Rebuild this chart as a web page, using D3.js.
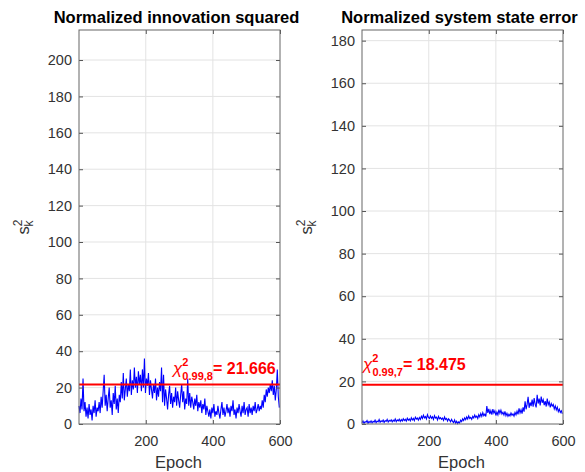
<!DOCTYPE html>
<html>
<head>
<meta charset="utf-8">
<script src="https://cdn.jsdelivr.net/npm/d3@7"></script>
<style>
    html, body { margin: 0; padding: 0; background: #fff; }
    svg { display: block; font-family: "Liberation Sans", Arial, Helvetica, sans-serif; }
</style>
</head>
<body>
<div id="chart"></div>
<script>
// epoch of the first sample and spacing between samples
const epochStart = 1;
const epochStep = 3;

// normalized innovation squared
const nisValues = [
    10, 6, 14, 8, 25, 7, 12, 4, 9, 3,
    11, 5, 8, 2, 10, 6, 13, 4, 9, 7,
    12, 6, 15, 9, 18, 27, 10, 16, 7, 14,
    20, 9, 13, 5, 17, 11, 21, 8, 14, 6,
    16, 12, 23, 14, 28, 13, 19, 25, 15, 22,
    18, 30, 16, 24, 19, 31, 20, 26, 17, 29,
    22, 27, 18, 30, 20, 36, 17, 25, 21, 28,
    16, 24, 19, 14, 22, 17, 25, 13, 20, 15,
    23, 18, 31, 12, 27, 10, 19, 14, 8, 16,
    21, 11, 17, 9, 15, 12, 20, 10, 18, 13,
    9, 16, 22, 12, 18, 8, 14, 11, 25, 10,
    17, 9, 15, 12, 8, 14, 10, 16, 7, 12,
    9, 13, 6, 11, 8, 14, 5, 10, 7, 4,
    8, 3, 9, 6, 11, 4, 7, 5, 10, 6,
    3, 8, 12, 5, 9, 4, 7, 11, 6, 9,
    4, 10, 7, 13, 5, 8, 3, 9, 6, 11,
    7, 4, 10, 6, 12, 5, 8, 9, 4, 11,
    6, 9, 5, 10, 7, 12, 6, 8, 11, 7,
    10, 8, 13, 9, 16, 12, 19, 15, 20, 17,
    22, 18, 24, 16, 21, 13, 19, 30, 15, 9
];

// normalized system state error
const neesValues = [
    0.6, 1.4, 0.3, 1.1, 0.8, 1.6, 0.4, 1.2, 0.7, 1.5,
    0.5, 1.3, 0.9, 1.8, 0.6, 1.4, 1.0, 2.1, 0.8, 1.5,
    1.1, 1.9, 0.7, 1.6, 1.2, 2.2, 0.9, 1.7, 1.3, 2.0,
    1.0, 1.8, 1.3, 2.4, 1.1, 1.9, 1.5, 2.3, 1.2, 2.1,
    1.4, 2.5, 1.6, 2.2, 1.3, 2.7, 1.8, 2.4, 1.5, 2.9,
    1.9, 2.6, 1.6, 3.2, 2.3, 2.8, 1.8, 3.0, 2.2, 3.6,
    2.6, 4.1, 2.9, 3.5, 2.4, 4.4, 3.1, 2.6, 3.8, 2.7,
    3.4, 2.1, 3.9, 2.8, 3.2, 1.9, 3.6, 2.5, 3.0, 2.2,
    2.8, 1.7, 3.3, 2.1, 2.6, 1.4, 2.4, 1.8, 1.0, 2.2,
    1.2, 0.6, 1.9, 0.4, 1.3, 0.2, 1.0, 0.5, 1.8, 1.1,
    2.4, 1.6, 2.9, 2.0, 3.3, 2.3, 3.8, 2.6, 3.1, 2.2,
    3.6, 2.8, 4.2, 3.1, 3.7, 2.6, 4.4, 3.3, 4.9, 3.6,
    5.3, 3.9, 4.6, 3.5, 8.4, 5.2, 7.1, 4.6, 6.3, 4.4,
    7.0, 5.1, 6.2, 4.0, 5.6, 4.3, 6.8, 5.0, 6.5, 4.7,
    5.5, 4.2, 5.9, 3.9, 5.0, 3.6, 4.6, 3.8, 5.2, 4.1,
    4.8, 3.7, 5.4, 4.3, 6.0, 4.5, 7.3, 5.2, 6.7, 4.9,
    7.8, 5.8, 10.6, 6.9, 9.2, 12.8, 7.6, 10.1, 8.4, 11.5,
    8.1, 12.2, 9.3, 7.8, 13.7, 9.6, 11.9, 8.7, 12.9, 10.0,
    11.4, 8.9, 10.7, 8.2, 11.9, 9.1, 10.3, 7.8, 9.6, 8.4,
    9.2, 7.1, 8.5, 6.6, 7.9, 5.8, 7.0, 5.4, 6.2, 4.8
];

const xTicks = [200, 400, 600];
const nisYTicks = [0, 20, 40, 60, 80, 100, 120, 140, 160, 180, 200];
const neesYTicks = [0, 20, 40, 60, 80, 100, 120, 140, 160, 180];

// chi-square 99% thresholds
const nisThreshold = 21.666;
const neesThreshold = 18.475;

const width = 585;
const height = 472;

const svg = d3.select("#chart")
    .append("svg")
    .attr("width", width)
    .attr("height", height);

const panels = [
    {
        title: "Normalized innovation squared",
        values: nisValues,
        yTicks: nisYTicks,
        yMax: 216.5,
        threshold: nisThreshold,
        dof: "0.99,8",
        left: 79, right: 280,
        labelAt: [281, 27.5]
    },
    {
        title: "Normalized system state error",
        values: neesValues,
        yTicks: neesYTicks,
        yMax: 185,
        threshold: neesThreshold,
        dof: "0.99,7",
        left: 362, right: 563,
        labelAt: [4, 25.4]
    }
];

const plotTop = 30;
const plotBottom = 424;

panels.forEach(p => {
    const x = d3.scaleLinear()
        .domain([1, 600])
        .range([p.left, p.right]);

    const y = d3.scaleLinear()
        .domain([0, p.yMax])
        .range([plotBottom, plotTop]);

    const g = svg.append("g");

    // grid
    g.append("g")
        .selectAll("line")
        .data(xTicks.filter(t => t < 600))
        .enter()
        .append("line")
        .attr("x1", d => x(d)).attr("x2", d => x(d))
        .attr("y1", plotTop).attr("y2", plotBottom)
        .attr("stroke", "#e3e3e3")
        .attr("stroke-width", 1);

    g.append("g")
        .selectAll("line")
        .data(p.yTicks.filter(t => t > 0))
        .enter()
        .append("line")
        .attr("x1", p.left).attr("x2", p.right)
        .attr("y1", d => y(d)).attr("y2", d => y(d))
        .attr("stroke", "#e3e3e3")
        .attr("stroke-width", 1);

    // data line
    const line = d3.line()
        .x((d, i) => x(epochStart + i * epochStep))
        .y(d => y(d));

    g.append("path")
        .datum(p.values)
        .attr("d", line)
        .attr("fill", "none")
        .attr("stroke", "#0000ff")
        .attr("stroke-width", 1.1);

    // threshold
    g.append("line")
        .attr("x1", p.left).attr("x2", p.right)
        .attr("y1", y(p.threshold)).attr("y2", y(p.threshold))
        .attr("stroke", "#ff0000")
        .attr("stroke-width", 2);

    const label = g.append("text")
        .attr("x", x(p.labelAt[0]))
        .attr("y", y(p.labelAt[1]))
        .attr("fill", "#ff0000")
        .attr("font-weight", "bold")
        .attr("font-size", 16);
    label.append("tspan")
        .attr("font-style", "italic")
        .attr("font-weight", "normal")
        .attr("font-size", 17)
        .text("\u03C7");
    label.append("tspan")
        .attr("font-size", 11)
        .attr("dy", -8)
        .text("2");
    label.append("tspan")
        .attr("font-size", 11)
        .attr("dx", -6)
        .attr("dy", 14)
        .text(p.dof);
    label.append("tspan")
        .attr("dy", -6)
        .text("= " + p.threshold.toFixed(3));

    // axes with inward ticks
    const xAxis = g.append("g")
        .attr("transform", `translate(0, ${plotBottom})`)
        .call(d3.axisBottom(x).tickValues(xTicks).tickSizeInner(-4).tickSizeOuter(0).tickPadding(12));
    const xAxisTop = g.append("g")
        .attr("transform", `translate(0, ${plotTop})`)
        .call(d3.axisTop(x).tickValues(xTicks).tickSizeInner(-4).tickSizeOuter(0).tickFormat(""));
    const yAxis = g.append("g")
        .attr("transform", `translate(${p.left}, 0)`)
        .call(d3.axisLeft(y).tickValues(p.yTicks).tickSizeInner(-4).tickSizeOuter(0).tickPadding(7));
    const yAxisRight = g.append("g")
        .attr("transform", `translate(${p.right}, 0)`)
        .call(d3.axisRight(y).tickValues(p.yTicks).tickSizeInner(-4).tickSizeOuter(0).tickFormat(""));

    [xAxis, xAxisTop, yAxis, yAxisRight].forEach(a => {
        a.select(".domain").remove();
        a.selectAll("line").attr("stroke", "#555");
        a.selectAll("text")
            .attr("fill", "#333")
            .attr("font-size", 14.5)
            .attr("font-family", "'Liberation Sans', Arial, sans-serif");
    });

    // box
    g.append("rect")
        .attr("x", p.left)
        .attr("y", plotTop)
        .attr("width", p.right - p.left)
        .attr("height", plotBottom - plotTop)
        .attr("fill", "none")
        .attr("stroke", "#666")
        .attr("stroke-width", 1);

    // title
    g.append("text")
        .attr("x", (p.left + p.right) / 2 - 3)
        .attr("y", 23)
        .attr("text-anchor", "middle")
        .attr("font-size", 16.5)
        .attr("font-weight", "bold")
        .attr("fill", "#000")
        .text(p.title);

    // x label
    g.append("text")
        .attr("x", (p.left + p.right) / 2 - 1)
        .attr("y", 468)
        .attr("text-anchor", "middle")
        .attr("font-size", 16.5)
        .attr("fill", "#333")
        .text("Epoch");

    // y label s_k^2
    const yl = g.append("text")
        .attr("transform", `translate(${p.left - 50}, ${(plotTop + plotBottom) / 2}) rotate(-90)`)
        .attr("text-anchor", "middle")
        .attr("font-size", 16.5)
        .attr("fill", "#333");
    yl.append("tspan").text("s");
    yl.append("tspan")
        .attr("font-size", 12)
        .attr("dy", -7)
        .text("2");
    yl.append("tspan")
        .attr("font-size", 12)
        .attr("dx", -7)
        .attr("dy", 11)
        .text("k");
});
</script>
</body>
</html>
